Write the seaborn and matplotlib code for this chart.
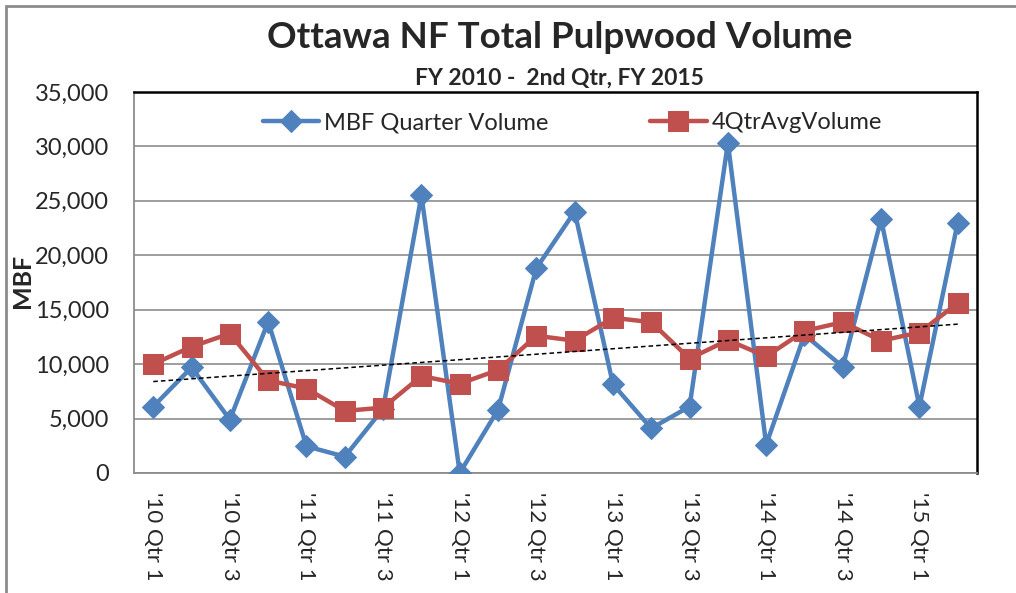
import numpy as np
import pandas as pd
import seaborn as sns
import matplotlib.pyplot as plt
from matplotlib.patches import Rectangle

# quarters FY2010 Q1 .. FY2015 Q2
quarters = [f"'{yy} Qtr {q}" for yy in range(10, 16) for q in range(1, 5)][:22]

mbf_quarter = [6100, 9700, 4900, 13900, 2450, 1500, 5900, 25500, 0, 5800, 18800,
               24000, 8150, 4100, 6100, 30300, 2600, 12700, 9750, 23300, 6100, 23000]
avg_4qtr = [10000, 11600, 12800, 8500, 7750, 5700, 6000, 8900, 8200, 9450, 12600,
            12150, 14250, 13850, 10500, 12200, 10700, 13050, 13850, 12150, 12900, 15600]

df = pd.DataFrame({
    "pos": np.arange(len(quarters)),
    "quarter": quarters,
    "MBF Quarter Volume": mbf_quarter,
    "4QtrAvgVolume": avg_4qtr,
})

sns.set_style("white")
plt.rcParams["font.family"] = ["Lato", "DejaVu Sans"]

fig = plt.figure(figsize=(10.16, 5.93), dpi=100)
ax = fig.add_axes([0.132, 0.2024, 0.8295, 0.6427])

blue = "#4F81BD"
red = "#C0504D"

sns.lineplot(data=df, x="pos", y="MBF Quarter Volume", ax=ax, color=blue, lw=3.2,
             marker="D", markersize=11, markeredgecolor=blue, label="MBF Quarter Volume",
             zorder=3)
sns.lineplot(data=df, x="pos", y="4QtrAvgVolume", ax=ax, color=red, lw=3.2,
             marker="s", markersize=14, markeredgecolor=red, label="4QtrAvgVolume",
             zorder=4)
# linear trend of the 4-quarter average
sns.regplot(data=df, x="pos", y="4QtrAvgVolume", ax=ax, scatter=False, ci=None,
            truncate=True, line_kws=dict(color="black", lw=1.1, ls=(0, (3, 2)), zorder=5))

ax.set_xlim(-0.5, len(quarters) - 0.5)
ax.set_ylim(0, 35000)
ax.set_yticks(range(0, 35001, 5000))
ax.set_yticklabels([f"{v:,}" for v in range(0, 35001, 5000)], fontsize=17)
ax.yaxis.grid(True, color="#8c8c8c", lw=1.2)
ax.set_axisbelow(True)

ax.set_xticks(df["pos"][::2])
ax.set_xticklabels(df["quarter"][::2], rotation=-90, fontsize=16, va="top", ha="center")
ax.set_xticks(np.arange(-0.5, len(quarters), 1), minor=True)
ax.tick_params(axis="x", which="major", length=0, pad=14)
ax.tick_params(axis="x", which="minor", length=6, width=1.2, color="#8c8c8c", direction="out")
ax.tick_params(axis="y", length=0, pad=18)
ax.set_xlabel("")
ax.set_ylabel("MBF", fontsize=18, fontweight="bold")
ax.yaxis.set_label_coords(-0.119, 0.505)

for side in ["left", "bottom"]:
    ax.spines[side].set_color("#8c8c8c")
    ax.spines[side].set_linewidth(1.3)
for side in ["top", "right"]:
    ax.spines[side].set_color("black")
    ax.spines[side].set_linewidth(1.8)

ax.legend(loc="upper center", bbox_to_anchor=(0.52, 0.99), ncol=2, frameon=False,
          fontsize=17, handlelength=2.4, handletextpad=0.2, columnspacing=4.3,
          borderaxespad=0.3)

fig.text(0.551, 0.936, "Ottawa NF Total Pulpwood Volume", ha="center", va="center",
         fontsize=26.5, fontweight="bold")
fig.text(0.551, 0.868, "FY 2010 -  2nd Qtr, FY 2015", ha="center", va="center",
         fontsize=16.5, fontweight="bold")

# outer chart-area border
fig.patches.append(Rectangle((6 / 1016, -0.1), 1.2, 1 - 6 / 593 + 0.1,
                             transform=fig.transFigure, fill=False,
                             edgecolor="#8c8c8c", lw=2))

fig.savefig("out.png", dpi=100)
